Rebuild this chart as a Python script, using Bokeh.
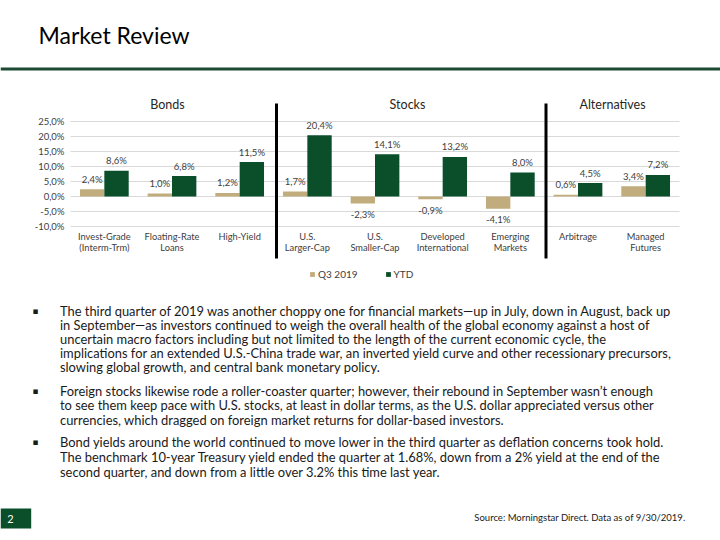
from bokeh.plotting import figure
from bokeh.models import (ColumnDataSource, Range1d, FixedTicker, Grid,
                          CustomJSTickFormatter, Label, Legend, LegendItem,
                          Arrow, BoxAnnotation)
from bokeh.core.properties import value
from bokeh.embed import file_html
from bokeh.resources import INLINE

# ---------------- data ----------------
categories = ["Invest-Grade\n(Interm-Trm)", "Floating-Rate\nLoans", "High-Yield",
              "U.S.\nLarger-Cap", "U.S.\nSmaller-Cap", "Developed\nInternational",
              "Emerging\nMarkets", "Arbitrage", "Managed\nFutures"]
q3_2019 = [2.4, 1.0, 1.2, 1.7, -2.3, -0.9, -4.1, 0.6, 3.4]
ytd = [8.6, 6.8, 11.5, 20.4, 14.1, 13.2, 8.0, 4.5, 7.2]
y_ticks = [-10, -5, 0, 5, 10, 15, 20, 25]
series_names = ["Q3 2019", "YTD"]
group_titles = ["Bonds", "Stocks", "Alternatives"]

title_text = "Market Review"
paragraphs = [
    ["The third quarter of 2019 was another choppy one for financial markets\u2014up in July, down in August, back up",
     "in September\u2014as investors continued to weigh the overall health of the global economy against a host of",
     "uncertain macro factors including but not limited to the length of the current economic cycle, the",
     "implications for an extended U.S.-China trade war, an inverted yield curve and other recessionary precursors,",
     "slowing global growth, and central bank monetary policy."],
    ["Foreign stocks likewise rode a roller-coaster quarter; however, their rebound in September wasn\u2019t enough",
     "to see them keep pace with U.S. stocks, at least in dollar terms, as the U.S. dollar appreciated versus other",
     "currencies, which dragged on foreign market returns for dollar-based investors."],
    ["Bond yields around the world continued to move lower in the third quarter as deflation concerns took hold.",
     "The benchmark 10-year Treasury yield ended the quarter at 1.68%, down from a 2% yield at the end of the",
     "second quarter, and down from a little over 3.2% this time last year."],
]
footer_text = "Source: Morningstar Direct. Data as of 9/30/2019."
page_number = "2"

# ---------------- styles / layout ----------------
TAN = "#C1AC7D"
GREEN = "#0A4E2A"
RULE = "#1D4A33"
TXT = "#404040"
FONT = "Lato"

W, H = 720, 540
FL, FR, FT, FB = 70, 679, 121, 226          # plot area in page pixels
N = len(categories)
KX = (FR - FL) / N
KY = (FB - FT) / (y_ticks[-1] - y_ticks[0])
BAR_W = 0.36


def sy(y):
    return H - y


def fmt(v):
    return ("%.1f%%" % v).replace(".", ",")


idx = [i + 0.5 for i in range(N)]
src = ColumnDataSource(dict(
    xq=[i - BAR_W / 2 for i in idx],
    xy=[i + BAR_W / 2 for i in idx],
    q3=q3_2019,
    ytd=ytd,
    q3_lbl=[fmt(v) for v in q3_2019],
    ytd_lbl=[fmt(v) for v in ytd],
    q3_off=[-10 if v >= 0 else 11 for v in q3_2019],
    ytd_off=[-10 if v >= 0 else 11 for v in ytd],
))

p = figure(width=W, height=H, output_backend="svg", toolbar_location=None,
           x_range=Range1d(-FL / KX, N + (W - FR) / KX),
           y_range=Range1d(y_ticks[0] - (H - FB) / KY, y_ticks[-1] + FT / KY),
           min_border=0, min_border_left=0, min_border_right=0,
           min_border_top=0, min_border_bottom=0)
p.outline_line_color = None
p.background_fill_color = "white"
p.border_fill_color = "white"

yt = FixedTicker(ticks=y_ticks)
p.yaxis.ticker = yt
p.yaxis.fixed_location = 0
p.yaxis.formatter = CustomJSTickFormatter(code="return tick.toFixed(1).replace('.', ',') + '%';")
p.yaxis.axis_line_color = None
p.yaxis.major_tick_line_color = None
p.yaxis.minor_tick_line_color = None
p.yaxis.major_tick_out = 0
p.yaxis.major_tick_in = 0
p.yaxis.minor_tick_out = 0
p.yaxis.major_label_text_font = FONT
p.yaxis.major_label_text_font_size = "9.5px"
p.yaxis.major_label_text_color = TXT
p.yaxis.major_label_standoff = 6

xt = FixedTicker(ticks=idx)
p.xaxis.ticker = xt
p.xaxis.fixed_location = y_ticks[0]
p.xaxis.formatter = CustomJSTickFormatter(args=dict(labels=categories),
                                          code="return labels[Math.floor(tick)];")
p.xaxis.axis_line_color = None
p.xaxis.major_tick_line_color = None
p.xaxis.minor_tick_line_color = None
p.xaxis.major_tick_out = 0
p.xaxis.major_tick_in = 0
p.xaxis.minor_tick_out = 0
p.xaxis.major_label_text_font = FONT
p.xaxis.major_label_text_font_size = "9.3px"
p.xaxis.major_label_text_color = TXT
p.xaxis.major_label_text_line_height = 1.0
p.xaxis.major_label_standoff = 4

p.xgrid.visible = False
p.ygrid.ticker = yt
if "cross_bounds" in Grid.properties():
    p.ygrid.cross_bounds = (0, N)
    p.ygrid.grid_line_color = "#D9D9D9"
    p.ygrid.grid_line_width = 1
else:
    p.ygrid.visible = False
    p.segment(x0=0, x1=N, y0=y_ticks, y1=y_ticks, line_color="#D9D9D9", line_width=1)

r1 = p.vbar(x="xq", top="q3", bottom=0, width=BAR_W,
            fill_color=TAN, line_color=None, source=src)
r2 = p.vbar(x="xy", top="ytd", bottom=0, width=BAR_W,
            fill_color=GREEN, line_color=None, source=src)

for xcol, col, lbl, off in (("xq", "q3", "q3_lbl", "q3_off"), ("xy", "ytd", "ytd_lbl", "ytd_off")):
    p.text(x=xcol, y=col, text=lbl, y_offset=off, source=src,
           text_align="center", text_baseline="middle", text_font=value(FONT),
           text_font_size="9.5px", text_color=TXT)

legend = Legend(items=[LegendItem(label=series_names[0], renderers=[r1]),
                       LegendItem(label=series_names[1], renderers=[r2])],
                orientation="horizontal", location=(309, sy(280)),
                glyph_width=6, glyph_height=6, label_height=10, label_standoff=3,
                spacing=27, padding=0, margin=0,
                label_text_font=FONT, label_text_font_size="10px", label_text_color=TXT,
                border_line_alpha=0, background_fill_alpha=0)
p.add_layout(legend)

# group separators
for xs in (276, 545.5):
    p.add_layout(Arrow(x_start=xs, y_start=sy(103), x_end=xs, y_end=sy(258),
                       start_units="screen", end_units="screen", start=None, end=None,
                       line_color="black", line_width=3))

# group titles
for t, xc in zip(group_titles, (167, 407, 612)):
    p.add_layout(Label(x=xc, y=sy(104), x_units="screen", y_units="screen", text=t,
                       text_align="center", text_baseline="middle", text_font=FONT,
                       text_font_size="12.5px", text_color="#262626"))

# page title and rule
p.add_layout(Label(x=38, y=sy(34), x_units="screen", y_units="screen", text=title_text,
                   text_align="left", text_baseline="middle", text_font=FONT,
                   text_font_size="23px", text_color="black"))
p.add_layout(Arrow(x_start=0, y_start=sy(68.5), x_end=W, y_end=sy(68.5),
                   start_units="screen", end_units="screen", start=None, end=None,
                   line_color=RULE, line_width=3))

# paragraphs
line_ys = [[310, 324, 338, 352, 366], [390, 404, 419], [441, 456, 471]]
for para, ys in zip(paragraphs, line_ys):
    p.add_layout(Label(x=35, y=sy(ys[0]), x_units="screen", y_units="screen", text="\u25aa",
                       text_align="center", text_baseline="middle", text_font="DejaVu Sans",
                       text_font_size="9px", text_color="#1A1A1A"))
    for line, yy in zip(para, ys):
        p.add_layout(Label(x=59.5, y=sy(yy), x_units="screen", y_units="screen", text=line,
                           text_align="left", text_baseline="middle", text_font=FONT,
                           text_font_size="12.9px", text_color="#1A1A1A"))

# footer
p.add_layout(BoxAnnotation(left=0, right=30.7, bottom=sy(528), top=sy(508),
                           left_units="screen", right_units="screen",
                           bottom_units="screen", top_units="screen",
                           fill_color=GREEN, fill_alpha=1, line_color=None))
p.add_layout(Label(x=10, y=sy(518), x_units="screen", y_units="screen", text=page_number,
                   text_align="center", text_baseline="middle", text_font=FONT,
                   text_font_size="11px", text_color="white"))
p.add_layout(Label(x=685, y=sy(517), x_units="screen", y_units="screen", text=footer_text,
                   text_align="right", text_baseline="middle", text_font=FONT,
                   text_font_size="9.5px", text_color="#1A1A1A"))

open("out.html", "w").write(file_html(p, INLINE))
